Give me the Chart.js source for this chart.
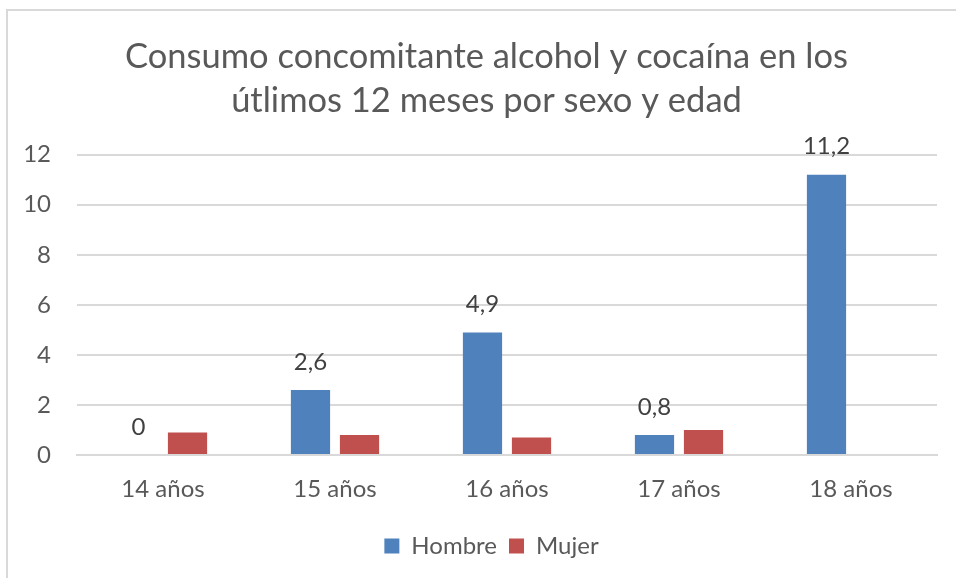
<!DOCTYPE html>
<html><head><meta charset="utf-8">
<script src="https://cdn.jsdelivr.net/npm/chart.js@4/dist/chart.umd.min.js"></script>
<style>html,body{margin:0;padding:0;background:#fff;}#wrap{width:956px;height:578px;position:relative;}</style>
</head><body><div id="wrap"><canvas id="c" width="956" height="578"></canvas></div>
<script>
const titleLines = ["Consumo concomitante alcohol y cocaína en los", "útlimos 12 meses por sexo y edad"];
const categories = ["14 años", "15 años", "16 años", "17 años", "18 años"];
const hombre = [0, 2.6, 4.9, 0.8, 11.2];
const mujer = [0.9, 0.8, 0.7, 1.0, 0];
const yTicks = [0, 2, 4, 6, 8, 10, 12];

const FONT = "Lato";
const TXT = "#595959";

const framePlugin = {
  id: 'frame',
  beforeDraw(chart) {
    const ctx = chart.ctx;
    ctx.save();
    ctx.fillStyle = '#fff';
    ctx.fillRect(0, 0, chart.width, chart.height);
    ctx.strokeStyle = '#d9d9d9';
    ctx.lineWidth = 2;
    ctx.beginPath();
    ctx.moveTo(7, chart.height);
    ctx.lineTo(7, 10);
    ctx.lineTo(chart.width, 10);
    ctx.stroke();
    ctx.restore();
  }
};

// centre title and legend on the whole chart frame rather than the padded box
const shiftPlugin = {
  id: 'shift',
  afterLayout(chart) {
    if (chart.titleBlock) { chart.titleBlock.left += 18; chart.titleBlock.right += 18; }
    if (chart.legend) { chart.legend.left += 23; chart.legend.right += 23; }
  }
};

const labelPlugin = {
  id: 'vlabels',
  afterDatasetsDraw(chart) {
    const ctx = chart.ctx;
    const meta = chart.getDatasetMeta(0);
    ctx.save();
    ctx.font = "24px " + FONT;
    ctx.fillStyle = "#404040";
    ctx.textAlign = "center";
    ctx.textBaseline = "middle";
    meta.data.forEach((bar, i) => {
      const v = chart.data.datasets[0].data[i];
      ctx.fillText(String(v).replace('.', ','), bar.x, bar.y - 28);
    });
    ctx.restore();
  }
};

new Chart(document.getElementById('c'), {
  type: 'bar',
  data: {
    labels: categories,
    datasets: [
      { label: 'Hombre', data: hombre, backgroundColor: '#4F81BD', categoryPercentage: 0.57, barPercentage: 0.8 },
      { label: 'Mujer', data: mujer, backgroundColor: '#C0504D', categoryPercentage: 0.57, barPercentage: 0.8 }
    ]
  },
  options: {
    responsive: false,
    animation: false,
    layout: { padding: { left: 0, right: 19, top: 10, bottom: 10 } },
    plugins: {
      title: {
        display: true,
        text: titleLines,
        color: TXT,
        font: { family: FONT, size: 34.5, weight: 'normal', lineHeight: 1.3 },
        padding: { top: 24, bottom: 31 }
      },
      legend: {
        position: 'bottom',
        labels: {
          color: TXT,
          font: { family: FONT, size: 24 },
          boxWidth: 15, boxHeight: 15, padding: 12
        }
      },
      tooltip: { enabled: false }
    },
    scales: {
      x: {
        grid: { display: false, drawTicks: false },
        border: { display: true, color: '#d9d9d9', width: 2 },
        ticks: { color: TXT, font: { family: FONT, size: 24 }, padding: 20 },
        afterFit(s) { s.height = 67; }
      },
      y: {
        min: 0, max: 12,
        afterBuildTicks(s) { s.ticks = yTicks.map(v => ({ value: v })); },
        grid: { color: '#d9d9d9', lineWidth: 2, drawTicks: false },
        border: { display: false },
        ticks: { color: TXT, font: { family: FONT, size: 24 }, padding: 26 },
        afterFit(s) { s.width = 77; }
      }
    }
  },
  plugins: [framePlugin, shiftPlugin, labelPlugin]
});
</script></body></html>
